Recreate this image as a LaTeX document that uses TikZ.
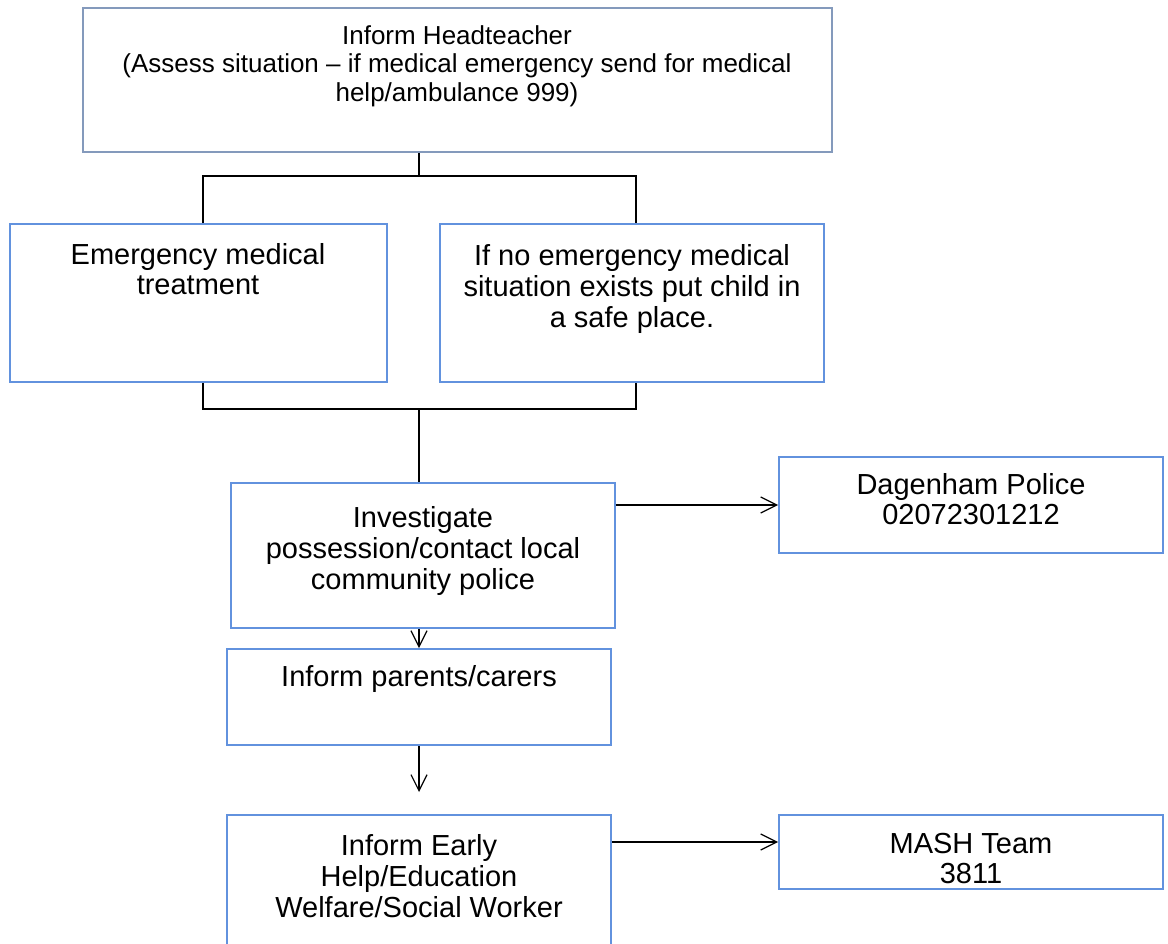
\documentclass[tikz,border=0pt]{standalone}
\usepackage{fontspec}
\setmainfont{Liberation Sans}
\usetikzlibrary{arrows.meta,fit,positioning}
\definecolor{boxblue}{RGB}{98,146,222}
\definecolor{topblue}{RGB}{132,154,188}
\tikzset{
  box/.style={draw=boxblue, line width=1.4pt, inner sep=0pt, rectangle},
  topbox/.style={draw=topblue, line width=1.4pt, inner sep=0pt, rectangle},
  txt/.style={align=center, inner sep=0pt, font=\fontsize{21.75}{23.25}\selectfont},
  conn/.style={draw=black, line width=0.9pt},
  arr/.style={conn, -{Straight Barb[length=12pt,width=12pt,line width=0.9pt]}}
}
\begin{document}
\begin{tikzpicture}[x=0.75pt,y=-0.75pt]
\useasboundingbox (0,0) rectangle (1168,944);
% boxes
\node[topbox, fit={(83,8) (832,152)}] (top) {};
\node[box, fit={(10,224) (387,382)}] (left) {};
\node[box, fit={(440,224) (824,382)}] (right) {};
\node[box, fit={(231,483) (615,628)}] (inv) {};
\node[box, fit={(779,457) (1163,553)}] (dag) {};
\node[box, fit={(227,649) (611,745)}] (par) {};
\node[box, fit={(779,815) (1163,889)}] (mash) {};
\begin{scope}
\clip (0,0) rectangle (1168,944);
\node[box, fit={(227,815) (611,980)}] (early) {};
\end{scope}
% texts
\node[txt, font=\fontsize{19.5}{21.3}\selectfont] (topt) at (457,66) {Inform Headteacher\\(Assess situation -- if medical emergency send for medical\\help/ambulance 999)};
\node[txt, font=\fontsize{21.75}{22.5}\selectfont] (leftt) at (198,269) {Emergency medical\\treatment};
\node[txt] (rightt) at (632,289) {If no emergency medical\\situation exists put child in\\a safe place.};
\node[txt] (invt) at (423,551) {Investigate\\possession/contact local\\community police};
\node[txt, font=\fontsize{21.75}{22.5}\selectfont] (dagt) at (971,499) {Dagenham Police\\02072301212};
\node[txt] (part) at (419,679) {Inform parents/carers};
\node[txt] (earlyt) at (419,876) {Inform Early\\Help/Education\\Welfare/Social Worker};
\node[txt, font=\fontsize{21.75}{22.5}\selectfont] (masht) at (971,859) {MASH Team\\3811};
% connectors
\coordinate (j1) at (419,176);
\coordinate (j2) at (419,409);
\coordinate (jl1) at (203,176);
\coordinate (jr1) at (636,176);
\coordinate (jl2) at (203,409);
\coordinate (jr2) at (636,409);
\draw[conn] (top.south -| j1) -- (j1);
\draw[conn] (left.north -| jl1) -- (jl1) -- (jr1) -- (right.north -| jr1);
\draw[conn] (left.south -| jl2) -- (jl2) -- (jr2) -- (right.south -| jr2);
\draw[conn] (j2) -- (inv.north -| j2);
\draw[arr] (inv.east |- 0,505) -- (dag.west |- 0,505);
\draw[arr] (inv.south -| j1) -- (par.north -| j1);
\draw[arr] (par.south -| j1) -- (419,792);
\draw[arr] (early.east |- 0,842) -- (mash.west |- 0,842);
\end{tikzpicture}
\end{document}
